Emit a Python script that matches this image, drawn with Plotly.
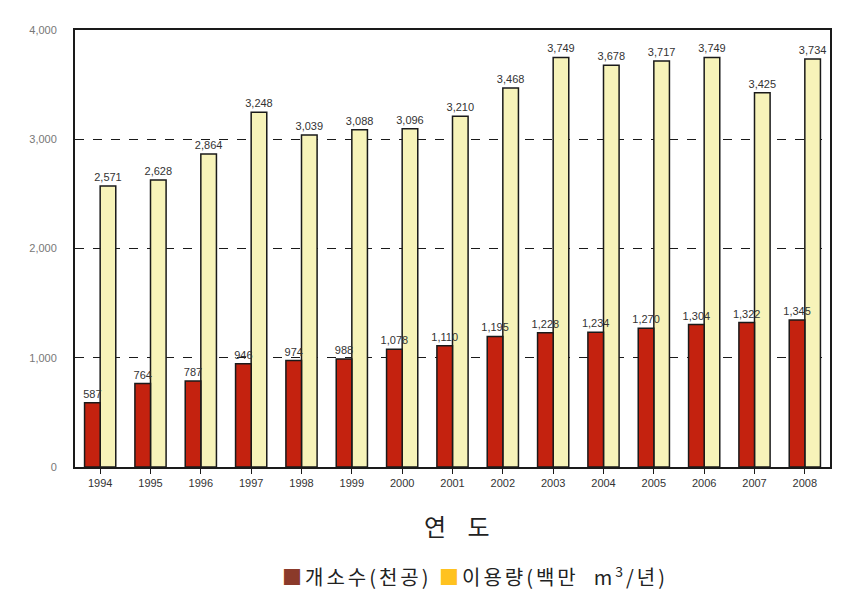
import plotly.graph_objects as go

years = ["1994", "1995", "1996", "1997", "1998", "1999", "2000", "2001",
         "2002", "2003", "2004", "2005", "2006", "2007", "2008"]
wells = [587, 764, 787, 946, 974, 988, 1078, 1110, 1195, 1228, 1234, 1270, 1304, 1322, 1345]
usage = [2571, 2628, 2864, 3248, 3039, 3088, 3096, 3210, 3468, 3749, 3678, 3717, 3749, 3425, 3734]
y_ticks = [0, 1000, 2000, 3000, 4000]

num_font = "Liberation Sans, Arial, sans-serif"
kr_font = "Noto Sans CJK KR, sans-serif"
bar_w = 0.31

fig = go.Figure()
# usage drawn first so the well-count labels sit on top of it
fig.add_trace(go.Bar(
    x=years, y=usage, name="이용량(백만 m³/년)",
    width=bar_w, offset=0.0,
    marker=dict(color="#F7F3B9", line=dict(color="#1a1a1a", width=1.5)),
    texttemplate="%{y:,.0f}", textposition="outside",
    textfont=dict(family=num_font, size=11, color="#333333"),
    cliponaxis=False, showlegend=False,
))
fig.add_trace(go.Bar(
    x=years, y=wells, name="개소수(천공)",
    width=bar_w, offset=-bar_w,
    marker=dict(color="#C4220F", line=dict(color="#1a1a1a", width=1.5)),
    texttemplate="%{y:,.0f}", textposition="outside",
    textfont=dict(family=num_font, size=11, color="#333333"),
    cliponaxis=False, showlegend=False,
))

fig.update_layout(
    width=834, height=588,
    margin=dict(l=67, r=12, t=22, b=129, autoexpand=False),
    paper_bgcolor="white", plot_bgcolor="white",
    barmode="overlay",
    uniformtext=dict(minsize=11, mode="show"),
    font=dict(family=num_font, size=11, color="#333333"),
    showlegend=False,
    xaxis=dict(
        showline=True, linecolor="#1a1a1a", linewidth=2, mirror=True,
        ticks="outside", ticklen=5, tickcolor="#1a1a1a",
        tickfont=dict(family=num_font, size=11, color="#333333"),
        showgrid=False, automargin=False,
    ),
    yaxis=dict(
        range=[0, 4000], tickvals=y_ticks, tickformat=",",
        showline=True, linecolor="#1a1a1a", linewidth=2, mirror=True,
        showgrid=True, gridcolor="#1a1a1a", griddash="dash", gridwidth=1,
        zeroline=False, automargin=False,
        tickfont=dict(family=num_font, size=11, color="#777777"),
        ticks="", ticklabelstandoff=14,
    ),
    annotations=[
        dict(text="연    도", x=0.506, xref="paper", y=-0.135, yref="paper",
             xanchor="center", yanchor="middle", showarrow=False,
             font=dict(family=kr_font, size=24, color="#222222")),
        dict(text="<span style='letter-spacing:3px'>"
                  "<span style='color:#8B3A2A'>■</span>개소수(천공) "
                  "<span style='color:#FFC21F'>■</span>이용량(백만  m<sup>3</sup>/년)"
                  "</span>",
             x=0.53, xref="paper", y=-0.25, yref="paper",
             xanchor="center", yanchor="middle", showarrow=False,
             font=dict(family=kr_font, size=20, color="#222222")),
    ],
)

fig.write_html("out.html")
